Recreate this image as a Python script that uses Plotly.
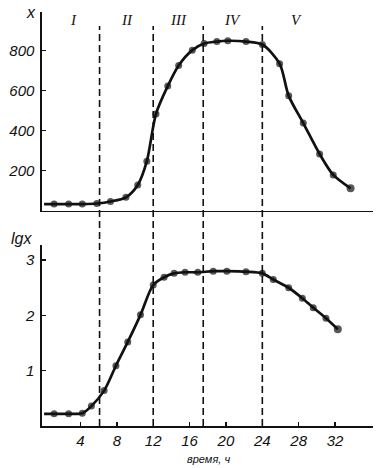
import plotly.graph_objects as go

# ---- data ----
time_top = [0, 1.1, 2.7, 4.2, 5.8, 7.3, 9.0, 10.3, 11.3, 12.3, 13.6, 14.8, 16.3, 17.6,
            19.0, 20.2, 22.2, 24.0, 25.9, 26.9, 28.5, 30.3, 31.8, 33.7]
x_top = [32, 32, 32, 32, 35, 45, 66, 128, 247, 483, 623, 726, 803, 836,
         846, 850, 846, 831, 735, 574, 438, 283, 178, 111]

time_bot = [0, 1.1, 2.7, 4.2, 5.2, 6.6, 7.9, 9.2, 10.6, 12.0, 13.2, 14.3, 15.5, 16.9,
            18.6, 20.1, 22.2, 24.0, 25.2, 26.9, 28.4, 29.6, 31.0, 32.3]
lg_bot = [0.22, 0.22, 0.22, 0.23, 0.36, 0.64, 1.09, 1.52, 2.01, 2.55, 2.69, 2.76, 2.78, 2.78,
          2.80, 2.80, 2.79, 2.76, 2.65, 2.50, 2.31, 2.14, 1.95, 1.75]

phase_bounds = [6.1, 12.0, 17.5, 24.0]
phase_labels = ["I", "II", "III", "IV", "V"]
phase_label_x = [3.2, 9.1, 14.8, 20.7, 27.8]

x_ticks = [4, 8, 12, 16, 20, 24, 28, 32]
top_ticks = [200, 400, 600, 800]
bot_ticks = [1, 2, 3]

# ---- geometry ----
W, H = 391, 468
ML, MR, MT, MB = 42, 18, 12, 42
PW, PH = W - ML - MR, H - MT - MB


def py(p):  # pixel y -> paper y
    return (H - MB - p) / PH


def px(p):
    return (p - ML) / PW


INK = "#111111"
sans = "Liberation Sans"
serif = "Liberation Serif"


def sizes(n, end=8):
    s = [7] * n
    s[0] = 0
    s[-1] = end
    return s


fig = go.Figure()
fig.add_trace(go.Scatter(
    x=time_top, y=x_top, xaxis="x2", yaxis="y2", mode="lines+markers",
    line=dict(color=INK, width=2.7, shape="spline", smoothing=0.8),
    marker=dict(color=INK, size=sizes(len(time_top)), line=dict(width=0)), showlegend=False,
    hoverinfo="skip"))
fig.add_trace(go.Scatter(
    x=time_bot, y=lg_bot, xaxis="x", yaxis="y", mode="lines+markers",
    line=dict(color=INK, width=2.7, shape="spline", smoothing=0.8),
    marker=dict(color=INK, size=sizes(len(time_bot)), line=dict(width=0)), showlegend=False,
    hoverinfo="skip"))

xr = [-0.23, 36.17]
tickfont = dict(family=sans, size=15, color=INK, style="italic")

fig.update_layout(
    template="none",
    width=W, height=H,
    margin=dict(l=ML, r=MR, t=MT, b=MB, autoexpand=False),
    paper_bgcolor="white", plot_bgcolor="white",
    xaxis=dict(domain=[0, 1], range=xr, anchor="y", showgrid=False, zeroline=False,
               automargin=False,
               showline=True, linecolor=INK, linewidth=1.6,
               tickvals=x_ticks, ticks="inside", ticklen=4, tickwidth=1.4, tickcolor=INK,
               tickfont=tickfont),
    xaxis2=dict(domain=[0, 1], range=xr, anchor="y2", matches="x", showgrid=False,
                automargin=False,
                zeroline=False, showline=True, linecolor=INK, linewidth=1.6,
                showticklabels=False, ticks=""),
    yaxis=dict(domain=[0, py(245)], range=[0, (H - MB - 245) / 55.3], anchor="x",
               automargin=False,
               showgrid=False, zeroline=False, showline=True, linecolor=INK, linewidth=1.6,
               tickvals=bot_ticks, ticks="inside", ticklen=4, tickwidth=1.4, tickcolor=INK,
               tickfont=tickfont, ticklabelstandoff=3),
    yaxis2=dict(domain=[py(210.5), 1], range=[0, (210.5 - MT) / 0.1997], anchor="x2",
                automargin=False,
                showgrid=False, zeroline=False, showline=True, linecolor=INK, linewidth=1.6,
                tickvals=top_ticks, ticks="inside", ticklen=4, tickwidth=1.4, tickcolor=INK,
                tickfont=tickfont, ticklabelstandoff=3),
)

for b in phase_bounds:
    fig.add_shape(type="line", xref="x", yref="paper", x0=b, x1=b, y0=0, y1=py(26),
                  line=dict(color=INK, width=1.6, dash="7px,4px"))

for lab, lx in zip(phase_labels, phase_label_x):
    fig.add_annotation(x=lx, y=py(20), xref="x", yref="paper", text=lab, showarrow=False,
                       xanchor="center", yanchor="middle",
                       font=dict(family=serif, size=15, color=INK, style="italic"))

fig.add_annotation(x=px(31), y=py(12), xref="paper", yref="paper", text="x", showarrow=False,
                   xanchor="center", yanchor="middle",
                   font=dict(family=sans, size=16, color=INK, style="italic"))
fig.add_annotation(x=px(21), y=py(238), xref="paper", yref="paper", text="lgx", showarrow=False,
                   xanchor="center", yanchor="middle",
                   font=dict(family=sans, size=16, color=INK, style="italic"))
fig.add_annotation(x=px(208), y=py(459), xref="paper", yref="paper", text="время, ч",
                   showarrow=False, xanchor="center", yanchor="middle",
                   font=dict(family=sans, size=11, color=INK, style="italic"))

fig.write_html("out.html", config={"displayModeBar": False, "staticPlot": True},
               post_script="document.body.style.margin='0px';document.body.style.padding='0px';")
